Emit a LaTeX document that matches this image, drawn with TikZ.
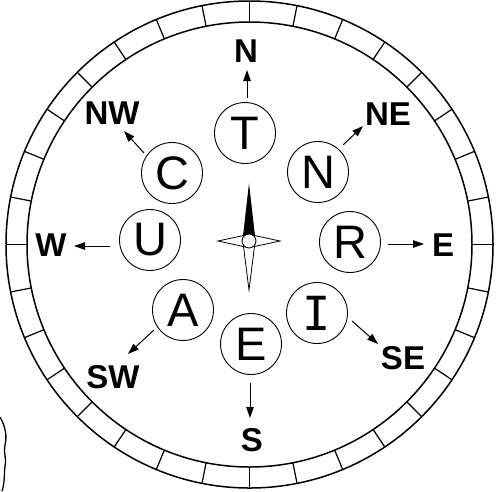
\documentclass[tikz,border=0pt]{standalone}
\usepackage{fontspec}
\setmainfont{Liberation Sans}
\newfontfamily\monofnt{DejaVu Sans Mono}
\usetikzlibrary{arrows.meta,calc}
\begin{document}
\begin{tikzpicture}[x=1pt,y=-1pt,
  letter/.style={circle,draw,line width=0.9pt,minimum size=61pt,inner sep=0pt,
    font=\fontsize{47}{47}\selectfont},
  dirlabel/.style={font=\fontsize{33}{33}\selectfont\bfseries,inner sep=0pt},
  dirarrow/.style={line width=1pt,-{Triangle[length=11pt,width=7.5pt]}},
  ringline/.style={line width=1.5pt}]
\useasboundingbox (0,0) rectangle (497,491);
% ring
\coordinate (ctr) at (249.5,244.5);
\draw[ringline] (ctr) circle[radius=243.5];
\draw[ringline] (ctr) circle[radius=222.5];
\foreach \k in {0,...,31}{
  \draw[line width=1.2pt] ($(ctr)+({90+11.25*\k}:-222.5)$) -- ($(ctr)+({90+11.25*\k}:-243.5)$);
}
% letters
\node[letter] (T) at (245,133) {T};
\node[letter] (N) at (318,172) {N};
\node[letter] (R) at (350,242) {R};
\node[letter] (I) at (317,313) {\monofnt I};
\node[letter] (E) at (251,344) {E};
\node[letter] (A) at (183,310) {A};
\node[letter] (U) at (150,240) {U};
\node[letter] (C) at (172,173) {C};
% direction labels
\node[dirlabel] (lN) at (246,51) {N};
\node[dirlabel] (lNE) at (388,114) {NE};
\node[dirlabel] (lE) at (443,245) {E};
\node[dirlabel] (lSE) at (403,358) {SE};
\node[dirlabel] (lS) at (252,440) {S};
\node[dirlabel] (lSW) at (113,377) {SW};
\node[dirlabel] (lW) at (51,245) {W};
\node[dirlabel] (lNW) at (112,113) {NW};
% arrow endpoints
\coordinate (aN) at (247,70);
\coordinate (aNE) at (363,126);
\coordinate (aE) at (424,244);
\coordinate (aSE) at (378,344);
\coordinate (aS) at (250,418);
\coordinate (aSW) at (128,354);
\coordinate (aW) at (74,246);
\coordinate (aNW) at (124,131);
\coordinate (sN) at (247,98);
\coordinate (sNE) at (343,145);
\coordinate (sE) at (388,244);
\coordinate (sSE) at (352,321);
\coordinate (sS) at (250,383);
\coordinate (sSW) at (154,330);
\coordinate (sW) at (110,246);
\coordinate (sNW) at (144,153);
\foreach \d in {N,NE,E,SE,S,SW,W,NW}{
  \draw[dirarrow] (s\d) -- (a\d);
}
% compass star
\coordinate (c) at (249,241);
\draw[line width=0.8pt,fill=white]
  ($(c)+(0,-54)$) -- ($(c)+(5.5,-5.5)$) -- ($(c)+(31,0)$) -- ($(c)+(5.5,5.5)$)
  -- ($(c)+(0,49)$) -- ($(c)+(-5.5,5.5)$) -- ($(c)+(-31,0)$) -- ($(c)+(-5.5,-5.5)$) -- cycle;
\fill ($(c)+(0,-54)$) -- ($(c)+(5.5,-5.5)$) -- (c) -- ($(c)+(-5.5,-5.5)$) -- cycle;
\draw[line width=0.8pt] ($(c)+(-5.5,-5.5)$) -- ($(c)+(5.5,5.5)$);
\draw[line width=0.8pt] ($(c)+(5.5,-5.5)$) -- ($(c)+(-5.5,5.5)$);
\node[circle,draw,fill=white,line width=0.9pt,minimum size=14pt,inner sep=0pt] (hub) at (c) {};
% stray edge
\draw[line width=1.3pt] (0,417) .. controls (6,428) and (7,436) .. (5,445)
  .. controls (3,452) and (7,458) .. (5,466) .. controls (4,474) and (5,482) .. (2,491);
\end{tikzpicture}
\end{document}
